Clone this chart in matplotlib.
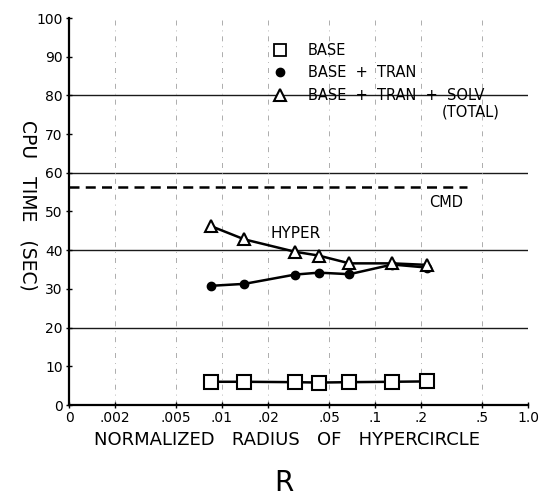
"""CPU time vs normalized radius of hypercircle (HYPER vs CMD), redrawn."""
import matplotlib
matplotlib.use("Agg")
import matplotlib.pyplot as plt
from matplotlib.ticker import NullLocator
from matplotlib.lines import Line2D

# values
radius = [0.0085, 0.014, 0.030, 0.043, 0.068, 0.13, 0.22]
base = [6.0, 6.0, 5.9, 5.8, 5.9, 6.0, 6.1]
base_tran = [30.8, 31.3, 33.7, 34.2, 33.8, 36.3, 35.5]
total = [46.2, 42.8, 39.6, 38.6, 36.6, 36.6, 36.2]
cmd_time = 56.3
cmd_span = [0.001, 0.40]

x_ticks = [0.001, 0.002, 0.005, 0.01, 0.02, 0.05, 0.1, 0.2, 0.5, 1.0]
x_labels = ["0", ".002", ".005", ".01", ".02", ".05", ".1", ".2", ".5", "1.0"]
y_ticks = list(range(0, 101, 10))
grid_levels = [20, 40, 60, 80]

W, H = 542, 498
fig = plt.figure(figsize=(W / 100, H / 100), dpi=100)
ax = fig.add_axes([69 / W, 1 - 405 / H, 459 / W, 387 / H])

ax.set_xscale("log")
ax.set_xlim(x_ticks[0], x_ticks[-1])
ax.set_ylim(0, 100)
ax.xaxis.set_minor_locator(NullLocator())
ax.set_xticks(x_ticks, x_labels)
ax.set_yticks(y_ticks, [str(v) for v in y_ticks])
ax.tick_params(direction="inout", length=5, width=1, labelsize=10, pad=2)

for side in ("top", "right"):
    ax.spines[side].set_visible(False)
for side in ("left", "bottom"):
    ax.spines[side].set_linewidth(1.6)

# ruled grid: solid horizontals, faint broken verticals
for lvl in grid_levels:
    ax.axhline(lvl, color="#1a1a1a", lw=1.0, zorder=1)
for t in x_ticks[1:-1]:
    ax.axvline(t, color="#a0a0a0", lw=0.6, ls=(0, (6, 6, 1, 6)), zorder=1)

ax.plot(cmd_span, [cmd_time, cmd_time], color="black", lw=1.8,
        ls=(0, (4, 2.5)), zorder=2)

ax.plot(radius, base, color="black", lw=1.8, marker="s", ms=10,
        mfc="white", mec="black", mew=1.5, zorder=3)
ax.plot(radius, base_tran, color="black", lw=1.8, marker="o", ms=6,
        mfc="black", mec="black", zorder=3)
ax.plot(radius, total, color="black", lw=1.8, marker="^", ms=8,
        mfc="white", mec="black", mew=1.5, zorder=4)

ax.text(0.29, 52.4, "CMD", ha="center", va="center", fontsize=10.5)
ax.text(0.0305, 44.4, "HYPER", ha="center", va="center", fontsize=11)
ax.text(0.42, 75.8, "(TOTAL)", ha="center", va="center", fontsize=10.5)

handles = [
    Line2D([], [], ls="none", marker="s", ms=9, mfc="white", mec="black", mew=1.3),
    Line2D([], [], ls="none", marker="o", ms=6, mfc="black", mec="black"),
    Line2D([], [], ls="none", marker="^", ms=8, mfc="white", mec="black", mew=1.5),
]
labels = ["BASE", "BASE  +  TRAN", "BASE  +  TRAN  +  SOLV"]
ax.legend(handles, labels, loc="upper left", bbox_to_anchor=(0.444, 0.935),
          frameon=False, fontsize=10.5, handlelength=1.0, handletextpad=1.4,
          labelspacing=0.5, borderpad=0, borderaxespad=0)

fig.text(287 / W, 1 - 440 / H, "NORMALIZED   RADIUS   OF   HYPERCIRCLE",
         ha="center", va="center", fontsize=13)
fig.text(284 / W, 1 - 483 / H, "R", ha="center", va="center", fontsize=20)
fig.text(28 / W, 1 - 205 / H, "CPU   TIME   (SEC)", ha="center", va="center",
         rotation=270, fontsize=13.5)

fig.savefig("out.png", dpi=100)
